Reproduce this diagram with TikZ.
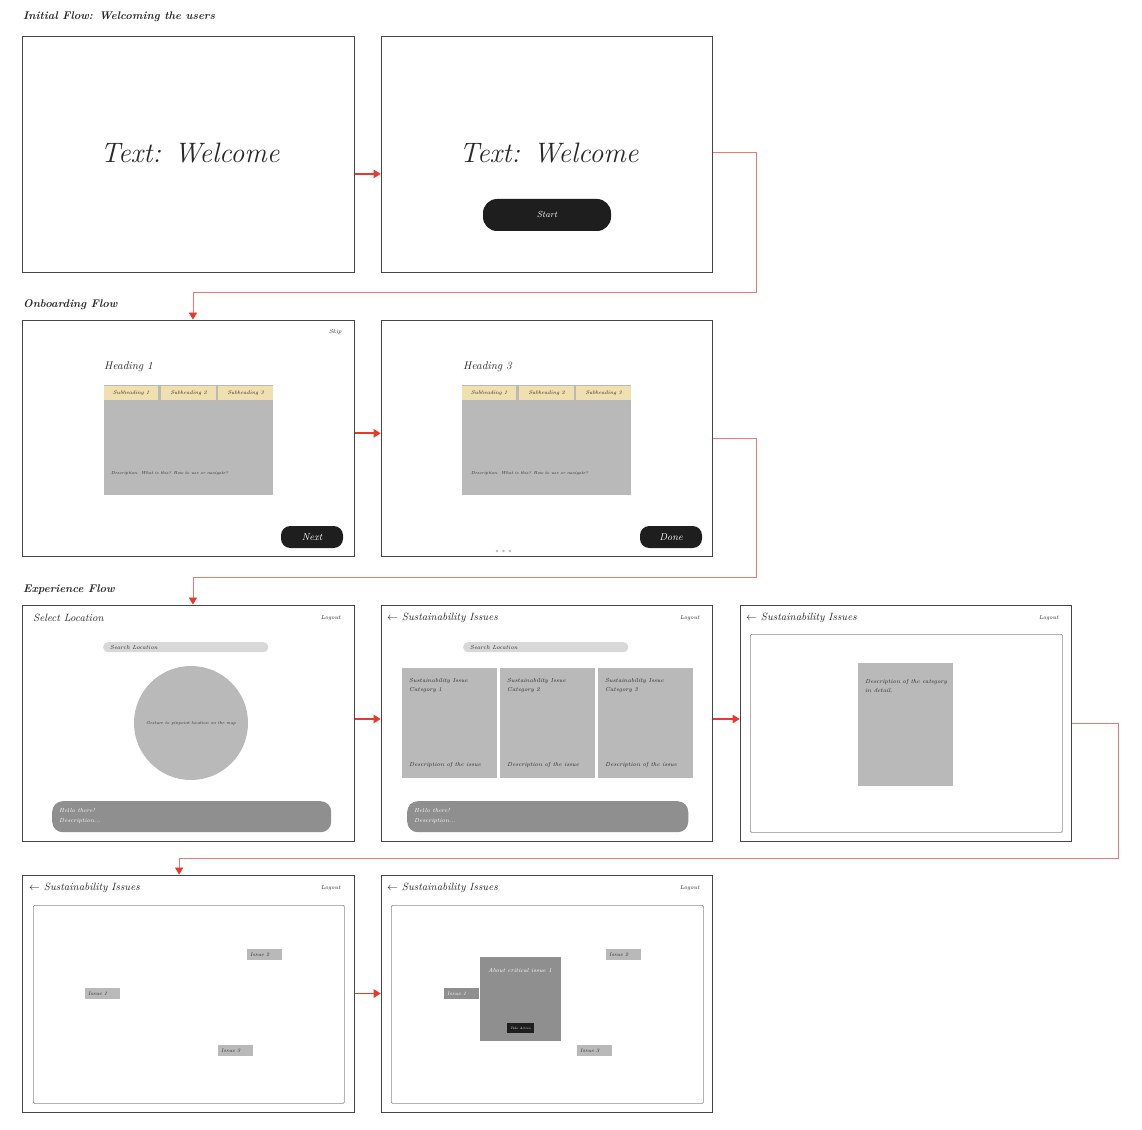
\documentclass[tikz,border=0pt]{standalone}
\usepackage{xcolor}
\usepackage{tikz}
\usetikzlibrary{arrows.meta, positioning, calc}
\definecolor{frameGray}{RGB}{70,70,70}
\definecolor{innerGray}{RGB}{140,140,140}
\definecolor{flowRed}{RGB}{232,57,43}
\definecolor{flowPink}{RGB}{236,120,112}
\definecolor{cardGray}{RGB}{184,185,184}
\definecolor{cardDark}{RGB}{143,143,143}
\definecolor{tabYellow}{RGB}{240,224,176}
\definecolor{btnBlack}{RGB}{30,30,30}
\definecolor{searchGray}{RGB}{216,216,216}
\definecolor{inkGray}{RGB}{40,40,40}
\newcommand{\handfont}[2]{\fontsize{#1}{#2}\selectfont\itshape}

\begin{document}
\begin{tikzpicture}[x=0.03cm, y=-0.03cm,
    screen/.style={draw=frameGray, line width=0.7pt, fill=white, minimum width=9.95cm, minimum height=7.08cm, inner sep=0pt},
    innerbox/.style={draw=innerGray, line width=0.6pt, rounded corners=1pt, anchor=north west, minimum width=9.35cm, minimum height=5.94cm, inner sep=0pt},
    flowtitle/.style={anchor=west, inner sep=0pt, text=inkGray, font=\handfont{9.5}{11}\bfseries},
    bigtext/.style={text=inkGray, font=\handfont{24}{28}},
    heading/.style={anchor=west, inner sep=0pt, text=inkGray, font=\handfont{9.5}{11}},
    screentitle/.style={anchor=west, inner sep=0pt, text=inkGray, font=\handfont{9}{11}},
    tinytext/.style={inner sep=0pt, text=inkGray, font=\handfont{5}{7.5}},
    desc/.style={anchor=west, inner sep=0pt, text=inkGray, font=\handfont{3.7}{5}},
    panel/.style={fill=cardGray, anchor=north west, inner sep=0pt, minimum width=5.07cm, minimum height=3.3cm},
    tabbox/.style={fill=tabYellow, anchor=north west, inner sep=0pt, minimum width=1.65cm, minimum height=0.42cm, text=inkGray, font=\handfont{4.6}{5}},
    darkbtn/.style={fill=btnBlack, text=white, inner sep=0pt},
    searchbar/.style={fill=searchGray, rounded corners=4pt, anchor=north west, inner sep=0pt, minimum width=4.95cm, minimum height=0.3cm},
    issuecard/.style={fill=cardGray, anchor=north west, inner sep=0pt, minimum width=2.84cm, minimum height=3.3cm},
    hellocard/.style={fill=cardDark, rounded corners=9pt, anchor=north west, inner sep=0pt, minimum height=0.93cm},
    whitetext/.style={anchor=north west, inner sep=0pt, text=white, align=left, font=\handfont{5}{9}},
    issuetag/.style={fill=cardGray, anchor=north west, inner sep=0pt, minimum width=1.05cm, minimum height=0.33cm},
    tagtext/.style={anchor=west, inner sep=0pt, text=inkGray, font=\handfont{4.5}{5}},
    flow/.style={-{Triangle[length=6pt, width=7pt]}, line width=1.6pt, draw=flowRed},
    flowlong/.style={-{Triangle[length=6pt, width=7pt, color=flowRed]}, line width=0.7pt, draw=flowPink}
  ]
    \useasboundingbox (0,0) rectangle (1142,1130);

    % Section titles
    \node[flowtitle] (titleInit) at (23,17) {Initial Flow: Welcoming the users};
    \node[flowtitle] (titleOnb) at (23,305) {Onboarding Flow};
    \node[flowtitle] (titleExp) at (23,590) {Experience Flow};

    % Initial flow: welcome screens
    \node[screen] (wel1) at (188.5,154) {};
    \node[bigtext] (wel1Text) at (190,153) {Text: Welcome};
    \node[screen] (wel2) at (547,154) {};
    \node[bigtext] (wel2Text) at (549,153) {Text: Welcome};
    \node[darkbtn, minimum width=3.84cm, minimum height=0.96cm, rounded corners=12pt, font=\handfont{7.5}{8}] (startBtn) at (547,215) {Start};

    % Onboarding: first page
    \node[screen] (onb1) at (188.5,438) {};
    \node[tinytext, anchor=east] (skip) at (342,332) {Skip};
    \node[heading] (head1) at (104,367) {Heading 1};
    \node[panel] (panel1) at (104,385) {};
    \node[tabbox, minimum width=1.62cm] (tab11) at (104,386) {Subheading 1};
    \node[tabbox] (tab12) at (161,386) {Subheading 2};
    \node[tabbox] (tab13) at (218,386) {Subheading 3};
    \node[desc] (desc1) at (111,473) {Description: What is this? How to use or navigate?};
    \node[darkbtn, minimum width=1.86cm, minimum height=0.66cm, rounded corners=8pt, font=\handfont{8.5}{9}] (nextBtn) at (312,537) {Next};

    % Onboarding: last page
    \node[screen] (onb2) at (547,438) {};
    \node[heading] (head3) at (463,367) {Heading 3};
    \node[panel] (panel3) at (462,385) {};
    \node[tabbox, minimum width=1.62cm] (tab31) at (462,386) {Subheading 1};
    \node[tabbox] (tab32) at (519,386) {Subheading 2};
    \node[tabbox] (tab33) at (576,386) {Subheading 3};
    \node[desc] (desc3) at (471,473) {Description: What is this? How to use or navigate?};
    \node[darkbtn, minimum width=1.86cm, minimum height=0.66cm, rounded corners=8pt, font=\handfont{8.5}{9}] (doneBtn) at (671,537) {Done};
    \foreach \dx in {497,503.5,510}
      \fill[cardGray] (\dx,551) circle (1.1pt);

    % Experience: select location
    \node[screen] (exp1) at (188.5,723) {};
    \node[screentitle] (selTitle) at (33,618) {Select Location};
    \node[tinytext, anchor=east] (logout1) at (341,618) {Logout};
    \node[searchbar] (search1) at (103,642) {};
    \node[tinytext, anchor=west] (search1Text) at (110,647) {Search Location};
    \node[circle, fill=cardGray, inner sep=0pt, minimum size=3.42cm, text=inkGray, font=\handfont{3.7}{5}] (mapCircle) at (191,723) {Gesture to pinpoint location on the map};
    \node[hellocard, minimum width=8.37cm] (hello1) at (52,801) {};
    \node[whitetext] (hello1Text) at (59,808) {Hello there!\\Description...};

    % Experience: issue categories
    \node[screen] (exp2) at (547,723) {};
    \node[screentitle] (catTitle) at (387,618) {$\leftarrow$ Sustainability Issues};
    \node[tinytext, anchor=east] (logout2) at (700,618) {Logout};
    \node[searchbar] (search2) at (463,642) {};
    \node[tinytext, anchor=west] (search2Text) at (470,647) {Search Location};
    \node[issuecard, minimum width=2.85cm] (cat1) at (402,668) {};
    \node[issuecard] (cat2) at (500,668) {};
    \node[issuecard] (cat3) at (598,668) {};
    \foreach \cx/\k in {409/1,507/2,605/3} {
      \node[tinytext, anchor=north west, align=left] (cat\k Head) at (\cx,678) {Sustainability Issue\\Category \k};
      \node[tinytext, anchor=west] (cat\k Desc) at (\cx,765) {Description of the issue};
    }
    \node[hellocard, minimum width=8.43cm] (hello2) at (407,801) {};
    \node[whitetext] (hello2Text) at (414,808) {Hello there!\\Description...};

    % Experience: category detail
    \node[screen] (exp3) at (906,723) {};
    \node[screentitle] (detTitle) at (746,618) {$\leftarrow$ Sustainability Issues};
    \node[tinytext, anchor=east] (logout3) at (1059,618) {Logout};
    \node[innerbox, minimum width=9.36cm] (detFrame) at (750,634) {};
    \node[fill=cardGray, anchor=north west, inner sep=0pt, minimum width=2.85cm, minimum height=3.69cm] (detCard) at (858,663) {};
    \node[tinytext, anchor=north west, align=left] (detText) at (865,679) {Description of the category\\in detail.};

    % Issues map
    \node[screen, minimum height=7.11cm] (iss1) at (188.5,993.5) {};
    \node[screentitle] (iss1Title) at (29,888) {$\leftarrow$ Sustainability Issues};
    \node[tinytext, anchor=east] (logout4) at (341,888) {Logout};
    \node[innerbox, minimum width=9.33cm] (iss1Frame) at (33,905) {};
    \node[issuetag] (tag12) at (247,949) {};
    \node[tagtext] (tag12Text) at (250,954.5) {Issue 2};
    \node[issuetag] (tag11) at (85,988) {};
    \node[tagtext] (tag11Text) at (88,993.5) {Issue 1};
    \node[issuetag] (tag13) at (218,1045) {};
    \node[tagtext] (tag13Text) at (221,1050.5) {Issue 3};

    % Issues map with popup
    \node[screen, minimum height=7.11cm] (iss2) at (547,993.5) {};
    \node[screentitle] (iss2Title) at (387,888) {$\leftarrow$ Sustainability Issues};
    \node[tinytext, anchor=east] (logout5) at (700,888) {Logout};
    \node[innerbox, minimum width=9.36cm] (iss2Frame) at (391,905) {};
    \node[issuetag] (tag22) at (606,949) {};
    \node[tagtext] (tag22Text) at (609,954.5) {Issue 2};
    \node[issuetag, fill=cardDark] (tag21) at (444,988) {};
    \node[tagtext, text=white] (tag21Text) at (447,993.5) {Issue 1};
    \node[issuetag] (tag23) at (577,1045) {};
    \node[tagtext] (tag23Text) at (580,1050.5) {Issue 3};
    \node[fill=cardDark, anchor=north west, inner sep=0pt, minimum width=2.43cm, minimum height=2.52cm] (popup) at (480,957) {};
    \node[tinytext, text=white] (popupText) at (520,970) {About critical issue 1};
    \node[darkbtn, minimum width=0.81cm, minimum height=0.3cm, font=\handfont{2.8}{3}] (actionBtn) at (520.5,1028) {Take Action};

    % Arrows
    \draw[flow] ([yshift=-17pt]wel1.east) -- ([yshift=-17pt]wel2.west);
    \coordinate (bendAB) at (756,292);
    \draw[flowlong] ([yshift=1.5pt]wel2.east) -| (bendAB) -| ([xshift=3.8pt]onb1.north);
    \draw[flow] ([yshift=4pt]onb1.east) -- ([yshift=4pt]onb2.west);
    \coordinate (bendBC) at (756,577);
    \draw[flowlong] (onb2.east) -| (bendBC) -| ([xshift=3.8pt]exp1.north);
    \draw[flow] ([yshift=3.4pt]exp1.east) -- ([yshift=3.4pt]exp2.west);
    \draw[flow] ([yshift=3.4pt]exp2.east) -- ([yshift=3.4pt]exp3.west);
    \coordinate (bendCD) at (1118,858);
    \draw[flowlong] (exp3.east) -| (bendCD) -| ([xshift=-8pt]iss1.north);
    \draw[flow] (iss1.east) -- (iss2.west);
\end{tikzpicture}
\end{document}
